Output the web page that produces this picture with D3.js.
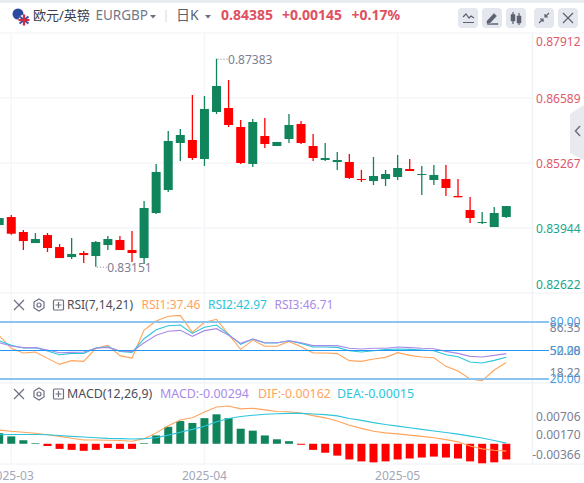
<!DOCTYPE html>
<html>
<head>
<meta charset="utf-8">
<script src="https://cdn.jsdelivr.net/npm/d3@7"></script>
<style>
html, body { margin: 0; padding: 0; background: #fff; overflow: hidden; }
text { font-family: "Noto Sans", "Noto Sans CJK SC", sans-serif; }
</style>
</head>
<body>
<svg id="chart" width="584" height="483"></svg>
<script>
// Daily candles, left to right
const opens = [0.83999,0.84162,0.83857,0.83632,0.83795,0.83551,0.83347,0.83429,0.83368,0.83592,0.83694,0.83490,0.83327,0.84243,0.84711,0.85668,0.85729,0.85342,0.86299,0.86380,0.85994,0.85241,0.85810,0.85607,0.85749,0.86055,0.85607,0.85322,0.85281,0.85281,0.84935,0.84894,0.84935,0.84976,0.85139,0.85017,0.84915,0.84935,0.84589,0.84304,0.84040,0.83958,0.84162];
const closes = [0.84141,0.83822,0.83673,0.83714,0.83531,0.83327,0.83409,0.83388,0.83653,0.83714,0.83490,0.83429,0.84345,0.85078,0.85709,0.85831,0.85362,0.86360,0.86828,0.86034,0.85261,0.86095,0.85648,0.85688,0.86034,0.85668,0.85362,0.85362,0.85322,0.84956,0.84915,0.84996,0.85037,0.85159,0.85098,0.85037,0.85017,0.84752,0.84563,0.84141,0.84060,0.84243,0.84385];
const highs = [0.84141,0.84202,0.83897,0.83836,0.83836,0.83612,0.83734,0.83470,0.83673,0.83775,0.83775,0.83877,0.84488,0.85241,0.85912,0.85953,0.86645,0.86625,0.87383,0.86950,0.86136,0.86156,0.86177,0.85688,0.86258,0.86116,0.85851,0.85668,0.85485,0.85444,0.85118,0.85383,0.85118,0.85424,0.85342,0.85200,0.85220,0.85220,0.84935,0.84569,0.84264,0.84365,0.84385];
const lows = [0.83999,0.83801,0.83490,0.83632,0.83449,0.83327,0.83307,0.83226,0.83151,0.83490,0.83490,0.83246,0.83205,0.84223,0.84671,0.85302,0.85322,0.85200,0.86258,0.85994,0.85241,0.85179,0.85566,0.85607,0.85668,0.85648,0.85302,0.85302,0.85118,0.84935,0.84874,0.84813,0.84793,0.84915,0.85098,0.84610,0.84813,0.84589,0.84563,0.84040,0.84019,0.83958,0.84141];

const rsi1 = [65.6,52.3,47.4,48.4,41.7,35.4,39.3,38.6,52.3,55.4,44.6,42.1,71.6,81.1,86,87,69.1,79.7,82.8,67,51.2,61,54.4,54.4,59.6,54,47.4,47.4,46.7,39.3,38.6,41,42.8,47.7,44.9,43.1,42.4,33.3,28.4,20,18.22,29.5,37.46];
const rsi2 = [60.3,55.4,52.6,53,49.5,45.6,47,47,52.6,54,49.1,48,62.4,71.9,76.1,76.8,68,74.4,76.8,67,56.5,62.1,57.9,57.9,60.3,57.5,53.7,53.7,53.3,49.8,48.4,49.8,50.9,51.6,51.2,50.5,49.8,45.6,43.5,37.9,36.8,39.6,42.97];
const rsi3 = [58.2,54.7,53,53,50.5,47.7,48,48.4,52.3,53.3,49.5,48.8,58.2,66,70.2,71.2,64.9,70.9,73,66,57.5,62.1,58.2,58.2,60.3,58.2,55.1,55.1,55.1,52.3,51.6,52.3,52.3,53.7,53,52.3,51.9,49.1,47,43.8,43.1,44.9,46.71];

const macdHist = [0.00198,0.00138,0.00066,0.00012,-0.00042,-0.00096,-0.00114,-0.00132,-0.00114,-0.00078,-0.00096,-0.00096,0.00012,0.00156,0.00318,0.00426,0.0039,0.0048,0.00552,0.0048,0.00282,0.00246,0.00156,0.00084,0.00048,-0.00018,-0.00114,-0.00168,-0.00222,-0.00294,-0.0033,-0.00348,-0.0033,-0.00294,-0.00276,-0.00258,-0.0024,-0.00258,-0.00276,-0.0033,-0.00366,-0.00348,-0.00294];
const dif = [0.00258,0.00234,0.00216,0.00198,0.00168,0.00138,0.00102,0.00072,0.00072,0.00066,0.0006,0.00048,0.00096,0.00204,0.00336,0.00444,0.00486,0.00594,0.0069,0.00708,0.00654,0.00666,0.00636,0.00606,0.006,0.00576,0.00528,0.00486,0.00426,0.00348,0.00288,0.00234,0.00204,0.00186,0.00162,0.00138,0.00114,0.00078,0.00036,-0.00042,-0.00096,-0.0012,-0.00138];
const dea = [0.00168,0.00174,0.00174,0.00174,0.00168,0.00156,0.00138,0.00126,0.00114,0.00102,0.00096,0.0009,0.00096,0.00114,0.00162,0.00216,0.0027,0.0033,0.00414,0.00474,0.0051,0.00534,0.00552,0.00564,0.0057,0.0057,0.00558,0.00546,0.00522,0.00474,0.00438,0.00396,0.0036,0.0033,0.003,0.0027,0.0024,0.0021,0.0018,0.00144,0.00108,0.0006,0.00012];

const priceTicks = [0.87912, 0.86589, 0.85267, 0.83944, 0.82622];
const rsiTicks = [86.35, 52.28, 18.22];
const rsiLevels = [80, 50, 20];
const macdTicks = [0.00706, 0.0017, -0.00366];
const monthIndex = [1, 17, 33];
const monthLabels = ["2025-03", "2025-04", "2025-05"];

const colors = {
    up: "#10845a",
    down: "#ff0000",
    orange: "#ffa45c",
    cyan: "#2cc5dc",
    purple: "#a98be8",
    grid: "#f5f6f9",
    border: "#eef0f4",
    headRed: "#e0505f",
    axisGreen: "#1aa58c",
    axisRed: "#e0596a",
    axisGray: "#7b8094",
    icon: "#5e6270"
};

const svg = d3.select("#chart");
const axisRight = 532.3;
const priceLast = 0.84385;

svg.append("defs").append("clipPath").attr("id", "plot")
    .append("rect").attr("x", 0).attr("y", 33).attr("width", axisRight).attr("height", 431);

// Scales
const x = d3.scaleLinear().domain([0, opens.length - 1]).range([-0.8, 506.3]);
const yPrice = d3.scaleLinear().domain([0.82622, 0.87912]).range([292.7, 32.7]);
const yRsi = d3.scaleLinear().domain([20, 80]).range([379, 322]);
const yRsiLabel = d3.scaleLinear().domain([18.22, 86.35]).range([373, 328]);
const yMacd = d3.scaleLinear().domain([-0.00366, 0.00706]).range([463.3, 406.1]);
const clamp = (v, lo, hi) => Math.max(lo, Math.min(hi, v));

// Header strip
svg.append("rect").attr("width", 584).attr("height", 3).attr("fill", "#e9ecf1");
svg.append("line").attr("x1", 0).attr("x2", 584).attr("y1", 33).attr("y2", 33).attr("stroke", colors.grid).attr("stroke-width", 1.5);

// Grid
const grid = svg.append("g");
grid.selectAll("line.v").data(monthIndex).enter().append("line")
    .attr("x1", d => x(d)).attr("x2", d => x(d)).attr("y1", 33).attr("y2", 464)
    .attr("stroke", colors.grid).attr("stroke-width", 1.5);
grid.selectAll("line.h").data(priceTicks.slice(1, 4)).enter().append("line")
    .attr("x1", 0).attr("x2", axisRight).attr("y1", d => yPrice(d)).attr("y2", d => yPrice(d))
    .attr("stroke", colors.grid).attr("stroke-width", 1.5);
grid.selectAll("line.b").data([293, 383, 464]).enter().append("line")
    .attr("x1", 0).attr("x2", 584).attr("y1", d => d).attr("y2", d => d)
    .attr("stroke", colors.border);
grid.append("line").attr("x1", axisRight).attr("x2", axisRight).attr("y1", 33).attr("y2", 464)
    .attr("stroke", colors.border).attr("stroke-width", 1.2);

const plot = svg.append("g").attr("clip-path", "url(#plot)");

// Candles
const candles = plot.selectAll("g.candle").data(opens).enter().append("g");
const candleColor = (d, i) => closes[i] >= opens[i] ? colors.up : colors.down;
candles.append("line")
    .attr("x1", (d, i) => x(i)).attr("x2", (d, i) => x(i))
    .attr("y1", (d, i) => yPrice(highs[i])).attr("y2", (d, i) => yPrice(lows[i]))
    .attr("stroke", candleColor).attr("stroke-width", 1.3);
candles.append("rect")
    .attr("x", (d, i) => x(i) - 4.5).attr("width", 9)
    .attr("y", (d, i) => yPrice(Math.max(opens[i], closes[i])))
    .attr("height", (d, i) => Math.max(1, Math.abs(yPrice(opens[i]) - yPrice(closes[i]))))
    .attr("fill", candleColor);

// High / low notes
[d3.greatestIndex(highs), d3.leastIndex(lows)].forEach(i => {
    const isHigh = highs[i] === d3.max(highs);
    const py = isHigh ? yPrice(highs[i]) : yPrice(lows[i]);
    svg.append("line").attr("x1", x(i) + 1).attr("x2", x(i) + 11).attr("y1", py + 0.5).attr("y2", py + 0.5)
        .attr("stroke", colors.axisGray).attr("stroke-dasharray", "1,2");
    svg.append("text").attr("x", x(i) + 11.5).attr("y", py + 1.5)
        .attr("dy", "0.35em").attr("font-size", 12).attr("fill", colors.axisGray)
        .text((isHigh ? highs[i] : lows[i]).toFixed(5));
});

// Price axis
svg.selectAll("text.price").data(priceTicks).enter().append("text")
    .attr("x", 580.5).attr("y", d => clamp(yPrice(d), 41, 284) + 1)
    .attr("dy", "0.35em").attr("text-anchor", "end").attr("font-size", 12)
    .attr("fill", d => d >= priceLast ? colors.axisRed : colors.axisGreen)
    .text(d => d.toFixed(5));

// RSI pane
svg.selectAll("text.rsiTick").data(rsiTicks).enter().append("text")
    .attr("x", 580.5).attr("y", d => yRsiLabel(d))
    .attr("dy", "0.35em").attr("text-anchor", "end").attr("font-size", 12)
    .attr("fill", colors.axisGray).text(d => d.toFixed(2));
svg.selectAll("line.level").data(rsiLevels).enter().append("line")
    .attr("x1", 0).attr("x2", 549).attr("y1", d => yRsi(d)).attr("y2", d => yRsi(d))
    .attr("stroke", d => d === 50 ? "#2196f3" : "#8cc4f0")
    .attr("stroke-width", d => d === 50 ? 1.2 : 2.2);
svg.selectAll("text.level").data(rsiLevels).enter().append("text")
    .attr("x", 580.5).attr("y", d => yRsi(d))
    .attr("dy", "0.35em").attr("text-anchor", "end").attr("font-size", 12)
    .attr("fill", "#4a9be0").text(d => d.toFixed(2));

function drawLine(values, yScale, color) {
    const line = d3.line().x((d, i) => x(i)).y(d => yScale(d));
    plot.append("path").attr("d", line(values)).attr("fill", "none")
        .attr("stroke", color).attr("stroke-width", 1.1);
}
drawLine(rsi1, yRsi, colors.orange);
drawLine(rsi2, yRsi, colors.cyan);
drawLine(rsi3, yRsi, colors.purple);

// MACD pane
plot.selectAll("rect.hist").data(macdHist).enter().append("rect")
    .attr("x", (d, i) => x(i) - 4).attr("width", 8)
    .attr("y", d => Math.min(yMacd(d), yMacd(0)))
    .attr("height", d => Math.abs(yMacd(d) - yMacd(0)))
    .attr("fill", d => d >= 0 ? colors.up : colors.down);
drawLine(dif, yMacd, colors.orange);
drawLine(dea, yMacd, colors.cyan);
svg.selectAll("text.macd").data(macdTicks).enter().append("text")
    .attr("x", 580.5).attr("y", d => clamp(yMacd(d), 417, 455))
    .attr("dy", "0.35em").attr("text-anchor", "end").attr("font-size", 12)
    .attr("fill", colors.axisGray).text(d => d.toFixed(5));

// Time axis
svg.selectAll("text.month").data(monthLabels).enter().append("text")
    .attr("x", (d, i) => x(monthIndex[i])).attr("y", 476)
    .attr("dy", "0.35em").attr("text-anchor", "middle").attr("font-size", 12)
    .attr("fill", "#a3a7b7").text(d => d);

// Pane legends
function paneLegend(y, size, items) {
    const g = svg.append("g").attr("fill", "none").attr("stroke", "#6b6f80").attr("stroke-width", 1.2);
    g.append("path").attr("d", `M14 ${y - 5}L24 ${y + 5}M24 ${y - 5}L14 ${y + 5}`);
    g.append("path").attr("d", `M39 ${y - 6}L44 ${y - 3}V${y + 3}L39 ${y + 6}L34 ${y + 3}V${y - 3}Z`);
    g.append("circle").attr("cx", 39).attr("cy", y).attr("r", 2);
    g.append("rect").attr("x", 53.5).attr("y", y - 5).attr("width", 10).attr("height", 10).attr("rx", 1);
    g.append("path").attr("d", `M58.5 ${y - 3}V${y + 3}M55.5 ${y}H61.5`);
    svg.selectAll(null).data(items).enter().append("text")
        .attr("x", d => d.x).attr("y", y).attr("dy", "0.35em").attr("font-size", size)
        .attr("fill", d => d.color).text(d => d.text);
}
paneLegend(305, 12, [
    { x: 67, text: "RSI(7,14,21)", color: "#4a4d5a" },
    { x: 141.5, text: "RSI1:37.46", color: colors.orange },
    { x: 208, text: "RSI2:42.97", color: colors.cyan },
    { x: 274.5, text: "RSI3:46.71", color: colors.purple }
]);
paneLegend(394, 12.4, [
    { x: 67, text: "MACD(12,26,9)", color: "#4a4d5a" },
    { x: 160, text: "MACD:-0.00294", color: colors.purple },
    { x: 258, text: "DIF:-0.00162", color: colors.orange },
    { x: 337, text: "DEA:-0.00015", color: colors.cyan }
]);

// Header
const flags = svg.append("g");
flags.append("circle").attr("cx", 18).attr("cy", 14).attr("r", 5.5).attr("fill", "#2b4a9f");
flags.append("circle").attr("cx", 24).attr("cy", 20).attr("r", 5.5).attr("fill", "#f4f4f8");
flags.append("path").attr("d", "M19.5 16.5L28.5 23.5M28.5 16.5L19.5 23.5").attr("stroke", "#3a4f9f").attr("stroke-width", 1.8);
flags.append("path").attr("d", "M24 14.5V25.5M18.5 20H29.5").attr("stroke", "#d8283c").attr("stroke-width", 2.2);

const header = [
    { x: 33, text: "欧元/英镑", size: 13, color: "#3b3e4a", weight: 400 },
    { x: 95.5, text: "EURGBP", size: 13.5, color: "#737889", weight: 400 },
    { x: 176, text: "日K", size: 14, color: "#5e6270", weight: 400 },
    { x: 221, text: "0.84385", size: 14, color: colors.headRed, weight: 700 },
    { x: 282, text: "+0.00145", size: 14, color: colors.headRed, weight: 700 },
    { x: 351.5, text: "+0.17%", size: 14, color: colors.headRed, weight: 700 }
];
svg.selectAll("text.head").data(header).enter().append("text")
    .attr("x", d => d.x).attr("y", 15).attr("dy", "0.35em")
    .attr("font-size", d => d.size).attr("font-weight", d => d.weight)
    .attr("fill", d => d.color).text(d => d.text);
svg.selectAll("path.caret").data([150, 205]).enter().append("path")
    .attr("d", d => `M${d} 15H${d + 6}L${d + 3} 18.5Z`).attr("fill", "#6b6f80");
svg.append("line").attr("x1", 166).attr("x2", 166).attr("y1", 10).attr("y2", 22).attr("stroke", "#d5d8df");

// Toolbar buttons
const buttons = svg.selectAll("g.btn").data([458, 482, 506, 534, 558]).enter().append("g")
    .attr("transform", d => `translate(${d},8)`);
buttons.append("rect").attr("width", 20).attr("height", 20).attr("rx", 4).attr("fill", "#e4e7ee");
const icon = (i, p, fill) => d3.select(buttons.nodes()[i]).append("path").attr("d", p)
    .attr("fill", fill ? colors.icon : "none").attr("stroke", colors.icon).attr("stroke-width", fill ? 0.5 : 1.2);
icon(0, "M5 9L8 6L11 10L13 8L16 10M5 14.5H16");
icon(1, "M5 13L12 5.5L14.5 8L7.5 15.5H5ZM5 16.5H16V15.5H9", true);
icon(2, "M7 4V16M13 5V17", false);
icon(2, "M5 6.5H9V13H5ZM11 8H15V15H11Z", true);
icon(3, "M15 5L11 9M11 6V9H14M5 15L9 11M6 11H9V14");
icon(4, "M5 5L15 15M15 5L5 15");

// Collapse tab
svg.append("path").attr("d", "M584 105L570 114V153L584 160Z").attr("fill", "#e9eaf0");
svg.append("path").attr("d", "M580 126L575.5 131L580 136").attr("fill", "none").attr("stroke", "#6b6f80").attr("stroke-width", 1.5);
</script>
</body>
</html>
